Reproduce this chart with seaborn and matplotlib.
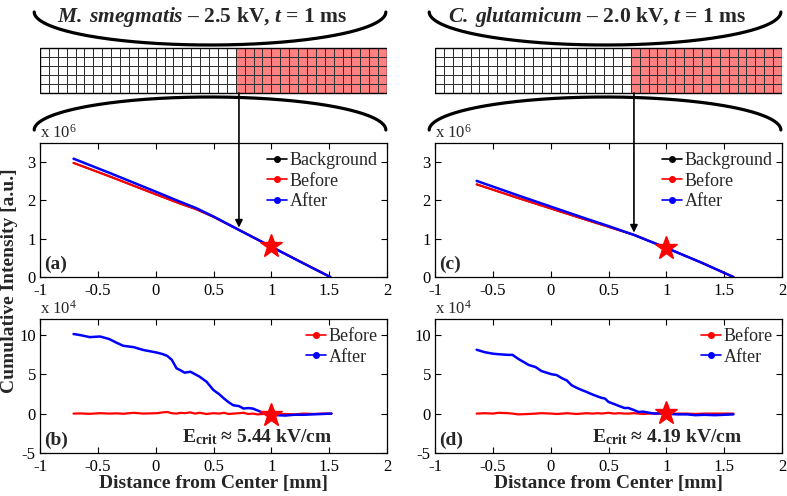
import numpy as np
import pandas as pd
import matplotlib
matplotlib.use("Agg")
import matplotlib.pyplot as plt
import seaborn as sns
from matplotlib.colors import ListedColormap
from matplotlib.patches import ConnectionPatch, Rectangle
from matplotlib.lines import Line2D

sns.set_style("ticks")
plt.rcParams["font.family"] = ["Liberation Serif", "DejaVu Serif"]
plt.rcParams["mathtext.fontset"] = "custom"
plt.rcParams["mathtext.rm"] = "Liberation Serif"
plt.rcParams["mathtext.it"] = "Liberation Serif:italic"
plt.rcParams["mathtext.bf"] = "Liberation Serif:bold"
plt.rcParams["mathtext.bfit"] = "Liberation Serif:italic:bold"
plt.rcParams["axes.unicode_minus"] = False

# ---------------- data ----------------
species = ["M.\\;smegmatis", "C.\\;glutamicum"]
voltages = ["2.5 kV", "2.0 kV"]
ecrit_values = ["5.44 kV/cm", "4.19 kV/cm"]
top_letters = ["(a)", "(c)"]
bot_letters = ["(b)", "(d)"]
xticks = [-1, -0.5, 0, 0.5, 1, 1.5, 2]
xtick_labels = ["-1", "-0.5", "0", "0.5", "1", "1.5", "2"]
yticks_top = [0, 1, 2, 3]
yticks_bot = [-5, 0, 5, 10]

# cumulative intensity, x 10^6  (panels a, c)
a_x = [-0.71, -0.4, 0.0, 0.2, 0.35, 0.5, 0.72, 1.0, 1.25, 1.51]
a_after = [3.09, 2.72, 2.23, 1.98, 1.80, 1.58, 1.23, 0.79, 0.40, 0.0]
a_before = [2.98, 2.63, 2.16, 1.93, 1.77, 1.57, 1.23, 0.79, 0.40, 0.0]
a_background = a_before

c_x = [-0.64, -0.3, 0.0, 0.3, 0.5, 0.72, 1.0, 1.3, 1.58]
c_after = [2.51, 2.15, 1.84, 1.53, 1.33, 1.10, 0.76, 0.38, 0.0]
c_before = [2.42, 2.08, 1.79, 1.50, 1.31, 1.10, 0.76, 0.38, 0.0]
c_background = c_before

# difference, x 10^4  (panels b, d)
b_x = [-0.71, -0.65, -0.57, -0.48, -0.40, -0.34, -0.28, -0.19, -0.11, 0.01,
       0.06, 0.10, 0.14, 0.18, 0.22, 0.25, 0.30, 0.34, 0.38, 0.44,
       0.50, 0.55, 0.59, 0.63, 0.67, 0.72, 0.76, 0.80, 0.84, 0.88,
       0.93, 0.98, 1.05, 1.12, 1.20, 1.28, 1.36, 1.44, 1.52]
b_after = [10.1, 9.95, 9.7, 9.78, 9.45, 9.0, 8.6, 8.43, 8.08, 7.74,
           7.55, 7.32, 6.81, 5.75, 5.45, 5.19, 5.31, 5.0, 4.68, 4.04,
           2.98, 2.45, 1.92, 1.45, 1.06, 0.95, 0.64, 0.7, 0.64, 0.4,
           0.1, -0.05, -0.2, -0.25, -0.15, -0.15, -0.1, -0.05, 0.0]
b_before = [0.0, 0.02, -0.03, 0.05, 0.0, 0.03, -0.02, 0.1, 0.0, 0.05,
            0.15, 0.2, 0.05, 0.0, 0.1, 0.05, 0.15, 0.0, 0.1, -0.05,
            0.05, 0.0, 0.1, -0.05, 0.0, 0.05, 0.1, -0.05, 0.0, -0.1,
            -0.05, -0.1, -0.1, -0.05, -0.1, 0.0, -0.05, 0.0, 0.0]

d_x = [-0.64, -0.57, -0.50, -0.45, -0.37, -0.33, -0.28, -0.19, -0.13, -0.08,
       0.01, 0.05, 0.10, 0.14, 0.18, 0.22, 0.27, 0.31, 0.36, 0.41,
       0.44, 0.47, 0.50, 0.55, 0.59, 0.64, 0.67, 0.72, 0.76, 0.80,
       0.84, 0.90, 0.96, 1.03, 1.10, 1.18, 1.25, 1.33, 1.42, 1.50, 1.58]
d_after = [8.1, 7.79, 7.6, 7.53, 7.45, 7.45, 6.94, 6.17, 5.9, 5.4,
           4.98, 4.9, 4.47, 4.2, 3.61, 3.3, 2.98, 2.75, 2.43, 2.15,
           2.0, 1.9, 1.48, 1.2, 0.97, 0.7, 0.72, 0.45, 0.2, 0.25,
           0.13, 0.0, 0.05, -0.05, -0.1, -0.1, -0.2, -0.15, -0.2, -0.15, -0.1]
d_before = [0.0, 0.05, 0.0, 0.1, 0.05, 0.0, -0.1, -0.05, 0.0, 0.05,
            0.0, -0.05, 0.0, 0.05, 0.0, -0.05, 0.0, 0.05, 0.0, 0.05,
            0.0, 0.05, 0.1, 0.0, 0.05, 0.0, 0.0, 0.05, 0.0, -0.05,
            0.0, 0.0, 0.0, -0.05, 0.0, 0.0, -0.05, 0.0, 0.0, 0.0, 0.0]

star_x = 1.0
star_top = [0.82, 0.77]
star_bot = [-0.2, 0.05]
arrow_x = 0.72
ecrit_xpos = [1.53, 1.66]

# schematic grid
grid_cols = 39
grid_rows = 5
red_start_col = 22

colors = {"Background": "black", "Before": "#ff0000", "After": "#0000ff"}

top_sets = [(a_x, a_background, a_before, a_after), (c_x, c_background, c_before, c_after)]
bot_sets = [(b_x, b_before, b_after), (d_x, d_before, d_after)]

# ---------------- figure ----------------
W, H = 787, 496
fig = plt.figure(figsize=(W / 100, H / 100), dpi=100)

lefts = [40, 435]
ax_w = 347
def fa(l, top, h):
    return [l / W, (H - top - h) / H, ax_w / W, h / H]


def style_axes(ax, yticks):
    ax.set_xlim(-1, 2)
    ax.set_xticks(xticks)
    ax.set_xticklabels(xtick_labels)
    ax.set_yticks(yticks)
    ax.set_yticklabels([str(v) for v in yticks])
    ax.tick_params(direction="in", top=True, right=True, length=4, width=0.8,
                   labelsize=12, colors="black")
    ax.tick_params(axis="x", pad=4)
    ax.tick_params(axis="y", pad=3)
    for s in ax.spines.values():
        s.set_linewidth(0.9)
        s.set_color("black")
    ax.set_xlabel("")
    ax.set_ylabel("")


for i in range(2):
    L = lefts[i]
    ax_t = fig.add_axes(fa(L, 143, 134))
    ax_b = fig.add_axes(fa(L, 319, 134))
    ax_d = fig.add_axes(fa(L, 0, 143))

    # ---- top panel ----
    xs, bg, bf, af = top_sets[i]
    df = pd.DataFrame({"x": xs * 3, "y": bg + bf + af,
                       "series": ["Background"] * len(xs) + ["Before"] * len(xs) + ["After"] * len(xs)})
    for name, lw in [("Background", 1.2), ("Before", 1.6), ("After", 1.8)]:
        sns.lineplot(data=df[df.series == name], x="x", y="y", color=colors[name],
                     estimator=None, sort=False, linewidth=lw, ax=ax_t, legend=False)
    ax_t.plot([star_x], [star_top[i]], marker="*", color="red", markersize=17,
              linestyle="none", zorder=6)
    ax_t.set_ylim(0, 3.5)
    style_axes(ax_t, yticks_top)
    handles = [Line2D([], [], color=colors[n], marker="o", markersize=4, lw=1.2)
               for n in ["Background", "Before", "After"]]
    ax_t.legend(handles, ["Background", "Before", "After"], loc="upper right",
                frameon=False, fontsize=13, handlelength=1.1, handletextpad=0.15,
                labelspacing=0.2, borderaxespad=0.2, borderpad=0.3)
    ax_t.text(0.012, 0.03, top_letters[i], transform=ax_t.transAxes, fontsize=14,
              weight="bold", ha="left", va="bottom")
    ax_t.text(0.0, 1.01, r"x 10$^{6}$", transform=ax_t.transAxes, fontsize=12,
              ha="left", va="bottom")

    # ---- bottom panel ----
    xs, bf, af = bot_sets[i]
    df2 = pd.DataFrame({"x": xs * 2, "y": bf + af,
                        "series": ["Before"] * len(xs) + ["After"] * len(xs)})
    for name, lw in [("Before", 1.6), ("After", 1.8)]:
        sns.lineplot(data=df2[df2.series == name], x="x", y="y", color=colors[name],
                     estimator=None, sort=False, linewidth=lw, ax=ax_b, legend=False)
    ax_b.plot([star_x], [star_bot[i]], marker="*", color="red", markersize=17,
              linestyle="none", zorder=6)
    ax_b.set_ylim(-5, 12)
    style_axes(ax_b, yticks_bot)
    handles = [Line2D([], [], color=colors[n], marker="o", markersize=4, lw=1.2)
               for n in ["Before", "After"]]
    ax_b.legend(handles, ["Before", "After"], loc="upper right",
                frameon=False, fontsize=13, handlelength=1.1, handletextpad=0.15,
                labelspacing=0.2, borderaxespad=0.2, borderpad=0.3)
    ax_b.text(0.012, 0.03, bot_letters[i], transform=ax_b.transAxes, fontsize=14,
              weight="bold", ha="left", va="bottom")
    ax_b.text(0.0, 1.01, r"x 10$^{4}$", transform=ax_b.transAxes, fontsize=12,
              ha="left", va="bottom")
    ax_b.text(ecrit_xpos[i], -3.7, r"$\mathbf{E}_{\mathbf{crit}}$ ≈ " + ecrit_values[i],
              fontsize=14, weight="bold", ha="right", va="baseline")
    ax_b.set_xlabel("Distance from Center [mm]", fontsize=14, weight="bold", labelpad=0)

    # ---- schematic ----
    ax_d.set_xlim(-1, 2)
    ax_d.set_ylim(143, 0)
    ax_d.axis("off")
    xe = np.linspace(-1, 2, grid_cols + 1)
    ye = np.linspace(48, 93, grid_rows + 1)
    C = np.tile((np.arange(grid_cols) >= red_start_col).astype(int), (grid_rows, 1))
    ax_d.pcolormesh(xe, ye, C, cmap=ListedColormap(["white", "#ff8080"]),
                    edgecolors="#303030", linewidth=0.6, vmin=0, vmax=1)
    ax_d.add_patch(Rectangle((-1, 48), 3, 45, fill=False, ec="black", lw=1.0))
    t = np.linspace(0, np.pi, 200)
    cx, a = 0.47, 1.52
    ax_d.plot(cx + a * np.cos(t), 12 + 33 * np.sin(t), color="black", lw=2.3,
              clip_on=False, solid_capstyle="round")
    ax_d.plot(cx + a * np.cos(t), 130 - 33 * np.sin(t), color="black", lw=2.3,
              clip_on=False, solid_capstyle="round")
    ax_d.text(0.40, 17, r"$\mathbfit{" + species[i] + r"}$ – " + voltages[i]
              + r", $\mathbfit{t}$ = 1 ms", fontsize=15.5, weight="bold",
              ha="center", va="center")

    tip_y = float(np.interp(arrow_x, top_sets[i][0], top_sets[i][3]))
    con = ConnectionPatch(xyA=(arrow_x, 93), coordsA=ax_d.transData,
                          xyB=(arrow_x, tip_y + 0.06), coordsB=ax_t.transData,
                          arrowstyle="-|>", color="black", lw=1.2, mutation_scale=11)
    fig.add_artist(con)

fig.text(10 / W, (H - 281) / H, "Cumulative Intensity [a.u.]", rotation=90,
         fontsize=14, weight="bold", ha="center", va="center")

fig.savefig("out.png", dpi=100)
